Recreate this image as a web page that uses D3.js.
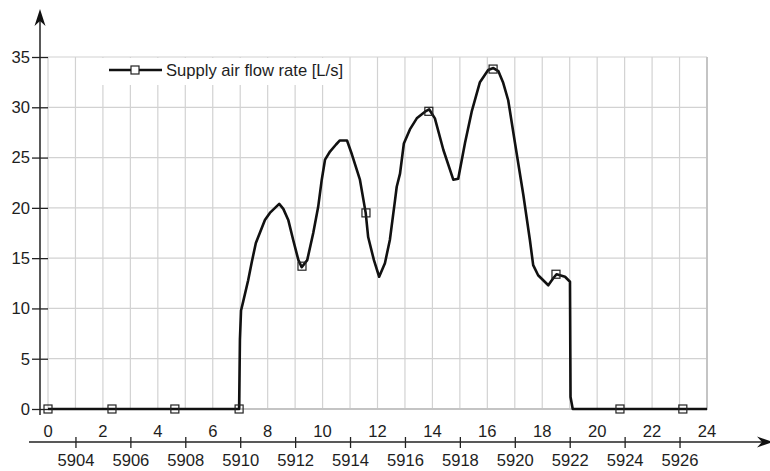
<!DOCTYPE html>
<html>
<head>
<meta charset="utf-8">
<script src="https://cdn.jsdelivr.net/npm/d3@7"></script>
<style>
	body { margin: 0; background: #fff; }
	text { font-family: "Liberation Sans", Arial, sans-serif; font-size: 16.6px; fill: #1e1e1e; }
</style>
</head>
<body>
<div id="svg"></div>
<script>
/* jshint esversion: 6 */
///////////////////////////////////////////////////////////////////////////////
//// Data /////////////////////////////////////////////////////////////////////
///////////////////////////////////////////////////////////////////////////////

// Hour of the day (top axis) and flow rate
const hours = [
	0, 6.96, 6.99, 7.03, 7.11, 7.29, 7.42, 7.57, 7.90, 8.08, 8.42, 8.57, 8.75, 8.93,
	9.12, 9.24, 9.44, 9.66, 9.84, 9.97, 10.09, 10.27, 10.49, 10.63, 10.89, 11.07,
	11.36, 11.57, 11.66, 11.87, 12.06, 12.27, 12.45, 12.64, 12.70, 12.82, 12.96,
	13.18, 13.43, 13.73, 13.88, 14.09, 14.40, 14.76, 14.94, 15.19, 15.43, 15.73,
	16.03, 16.22, 16.40, 16.57, 16.76, 17.01, 17.31, 17.55, 17.67, 17.85, 18.22,
	18.40, 18.52, 18.83, 19.01, 19.03, 19.11, 24
];
const flowRate = [
	0, 0, 6.9, 9.8, 10.7, 12.8, 14.6, 16.5, 18.8, 19.5, 20.4, 19.9, 18.8, 16.8,
	14.8, 14.1, 14.8, 17.5, 20.1, 22.8, 24.8, 25.6, 26.3, 26.7, 26.7, 25.3,
	22.8, 19.5, 17.1, 14.8, 13.15, 14.5, 16.8, 20.8, 22.1, 23.4, 26.4,
	27.8, 28.9, 29.56, 29.8, 28.9, 25.75, 22.8, 22.9, 26.5, 29.56, 32.5,
	33.7, 33.9, 33.6, 32.5, 30.7, 26.4, 21.3, 16.8, 14.3, 13.3, 12.3,
	13.0, 13.4, 13.15, 12.65, 1.2, 0, 0
];

// Square markers drawn along the series
const markerHours = [0, 2.33, 4.62, 6.96, 9.25, 11.58, 13.87, 16.21, 18.50, 20.83, 23.12];
const markerFlow = [0, 0, 0, 0, 14.2, 19.5, 29.6, 33.8, 13.4, 0, 0];

const hourTicks = d3.range(0, 25, 2);
const stepTicks = d3.range(5904, 5927, 2);
const flowTicks = d3.range(0, 36, 5);
const seriesName = "Supply air flow rate [L/s]";

///////////////////////////////////////////////////////////////////////////////
//// Initial Set Up ///////////////////////////////////////////////////////////
///////////////////////////////////////////////////////////////////////////////

const width = 770,
			height = 471;

const plot = { left: 48, right: 707, top: 57, bottom: 409 };

const x = d3.scaleLinear()
		.domain([0, 24])
		.range([plot.left, plot.right]);

const xStep = d3.scaleLinear()
		.domain([5903, 5927])
		.range([plot.left, plot.right]);

const y = d3.scaleLinear()
		.domain([0, 35])
		.range([plot.bottom, plot.top]);

const svg = d3.select("#svg").append("svg")
		.attr("width", width)
		.attr("height", height);

///////////////////////////////////////////////////////////////////////////////
//// Grid /////////////////////////////////////////////////////////////////////
///////////////////////////////////////////////////////////////////////////////

const grid = svg.append("g")
		.attr("stroke", "#d2d2d2")
		.attr("stroke-width", 1.2);

grid.selectAll(".vgrid")
	.data(d3.range(0, 25))
	.enter().append("line")
		.attr("x1", d => x(d))
		.attr("x2", d => x(d))
		.attr("y1", plot.top)
		.attr("y2", plot.bottom);

grid.selectAll(".hgrid")
	.data(flowTicks)
	.enter().append("line")
		.attr("x1", plot.left)
		.attr("x2", plot.right)
		.attr("y1", d => y(d))
		.attr("y2", d => y(d));

// Heavier bottom and right border
svg.append("path")
		.attr("d", `M${plot.left},${plot.bottom}H${plot.right}V${plot.top}`)
		.attr("fill", "none")
		.attr("stroke", "#c4c4c4")
		.attr("stroke-width", 2);

///////////////////////////////////////////////////////////////////////////////
//// Axes /////////////////////////////////////////////////////////////////////
///////////////////////////////////////////////////////////////////////////////

// Y axis: ticks cross the axis line at x = 40
const yAxis = svg.append("g")
		.attr("transform", `translate(${plot.left}, 0)`)
		.call(d3.axisLeft(y).tickValues(flowTicks).tickSize(16).tickPadding(2))
		.call(g => g.select(".domain").remove());
yAxis.selectAll("line").attr("stroke", "#222").attr("stroke-width", 1.3);
yAxis.selectAll("text").attr("font-size", null).attr("font-family", null);

svg.append("line")
		.attr("x1", 40).attr("x2", 40)
		.attr("y1", 415).attr("y2", 18)
		.attr("stroke", "#222")
		.attr("stroke-width", 1.5);
svg.append("path")
		.attr("d", "M40,9L34.5,26L40,21L45.5,26Z")
		.attr("fill", "#111");

// Bottom axis: step numbers with ticks
const xAxis = svg.append("g")
		.attr("transform", "translate(0, 442)")
		.call(d3.axisBottom(xStep).tickValues(stepTicks).tickSizeInner(6).tickSizeOuter(0).tickFormat(d3.format("d")))
		.call(g => g.select(".domain").remove());
xAxis.selectAll("line")
		.attr("y1", -5)
		.attr("y2", 6)
		.attr("stroke", "#222")
		.attr("stroke-width", 1.3);
xAxis.selectAll("text")
		.attr("font-size", null)
		.attr("font-family", null)
		.attr("y", 24)
		.attr("dy", null);

svg.append("line")
		.attr("x1", 29).attr("x2", 766)
		.attr("y1", 442).attr("y2", 442)
		.attr("stroke", "#222")
		.attr("stroke-width", 1.3);
svg.append("path")
		.attr("d", "M773,442L757,436.5L762,442L757,447.5Z")
		.attr("fill", "#111");

// Hour labels above the bottom axis line
svg.append("g")
	.selectAll("text")
	.data(hourTicks)
	.enter().append("text")
		.attr("x", d => x(d))
		.attr("y", 437)
		.attr("text-anchor", "middle")
		.text(d => d);

///////////////////////////////////////////////////////////////////////////////
//// Series ///////////////////////////////////////////////////////////////////
///////////////////////////////////////////////////////////////////////////////

const points = hours.map((h, i) => [h, flowRate[i]]);

const line = d3.line()
		.x(d => x(d[0]))
		.y(d => y(d[1]));

svg.append("path")
		.datum(points)
		.attr("d", line)
		.attr("fill", "none")
		.attr("stroke", "#111")
		.attr("stroke-width", 2.6)
		.attr("stroke-linejoin", "round");

const markerSize = 8;
svg.append("g")
	.selectAll("rect")
	.data(markerHours.map((h, i) => [h, markerFlow[i]]))
	.enter().append("rect")
		.attr("x", d => x(d[0]) - markerSize / 2)
		.attr("y", d => y(d[1]) - markerSize / 2)
		.attr("width", markerSize)
		.attr("height", markerSize)
		.attr("fill", "none")
		.attr("stroke", "#222")
		.attr("stroke-width", 1.2);

///////////////////////////////////////////////////////////////////////////////
//// Legend ///////////////////////////////////////////////////////////////////
///////////////////////////////////////////////////////////////////////////////

const legend = svg.append("g")
		.attr("transform", "translate(100, 58)");
legend.append("rect")
		.attr("width", 248)
		.attr("height", 27)
		.attr("fill", "#fff");
legend.append("line")
		.attr("x1", 9).attr("x2", 62)
		.attr("y1", 12).attr("y2", 12)
		.attr("stroke", "#111")
		.attr("stroke-width", 2.6);
legend.append("rect")
		.attr("x", 35 - markerSize / 2)
		.attr("y", 12 - markerSize / 2)
		.attr("width", markerSize)
		.attr("height", markerSize)
		.attr("fill", "#fff")
		.attr("stroke", "#222")
		.attr("stroke-width", 1.2);
legend.append("text")
		.attr("x", 66)
		.attr("y", 12)
		.attr("dy", "0.35em")
		.text(seriesName);
</script>
</body>
</html>
